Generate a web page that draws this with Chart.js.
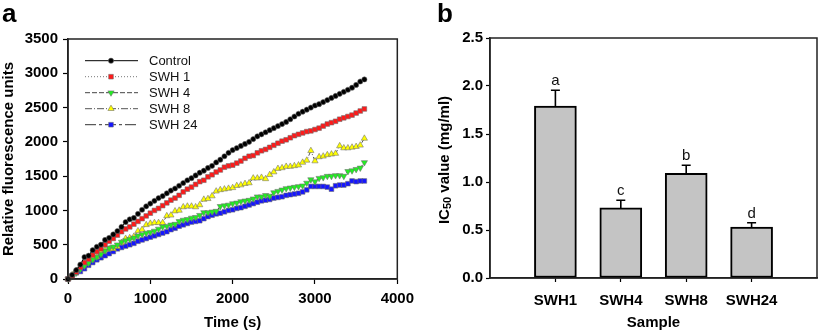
<!DOCTYPE html>
<html>
<head>
<meta charset="utf-8">
<script src="https://cdn.jsdelivr.net/npm/chart.js"></script>
<style>
  html,body{margin:0;padding:0;background:#fff;}
  #wrap{position:relative;width:827px;height:333px;overflow:hidden;}
  canvas{position:absolute;top:0;}
</style>
</head>
<body>
<div id="wrap">
  <canvas id="ca" width="420" height="333" style="left:0px"></canvas>
  <canvas id="cb" width="407" height="333" style="left:420px"></canvas>
</div>
<script>
// ---------- Panel a data ----------
const times = [0,50,100,150,200,250,300,350,400,450,500,550,600,650,700,750,800,850,900,950,
  1000,1050,1100,1150,1200,1250,1300,1350,1400,1450,1500,1550,1600,1650,1700,1750,1800,1850,1900,1950,
  2000,2050,2100,2150,2200,2250,2300,2350,2400,2450,2500,2550,2600,2650,2700,2750,2800,2850,2900,2950,
  3000,3050,3100,3150,3200,3250,3300,3350,3400,3450,3500,3550,3600];
const seriesNames = ['Control','SWH 1','SWH 4','SWH 8','SWH 24'];
const control = [0,60,130,210,320,340,420,470,500,570,
  600,650,700,760,830,870,890,950,1010,1060,
  1100,1140,1180,1210,1250,1290,1320,1360,1400,1440,
  1470,1510,1550,1580,1620,1650,1700,1740,1790,1840,
  1880,1910,1940,1970,2000,2040,2080,2110,2140,2170,
  2200,2230,2260,2290,2330,2370,2410,2440,2470,2500,
  2530,2550,2580,2610,2640,2670,2700,2730,2760,2790,
  2830,2880,2910];
const swh1 = [0,40,100,170,240,290,350,400,440,500,
  550,590,640,690,730,760,800,840,880,920,
  960,1000,1030,1070,1110,1150,1180,1220,1270,1310,
  1340,1380,1420,1440,1490,1520,1560,1590,1630,1650,
  1660,1690,1720,1760,1790,1800,1840,1870,1890,1920,
  1950,1980,2010,2030,2060,2090,2110,2130,2150,2160,
  2180,2200,2230,2260,2280,2300,2330,2350,2370,2390,
  2420,2450,2480];
const swh4 = [0,40,90,140,190,230,280,320,360,410,
  450,470,500,540,560,580,600,630,650,670,
  680,700,730,760,770,790,800,840,860,870,
  890,900,930,970,970,980,990,1060,1070,1080,
  1100,1110,1130,1140,1150,1170,1200,1200,1220,1210,
  1260,1280,1300,1320,1330,1340,1350,1360,1400,1450,
  1420,1470,1480,1500,1500,1510,1510,1500,1570,1580,
  1600,1620,1700];
const swh8 = [0,60,120,180,220,300,310,320,400,420,
  440,440,470,530,590,600,620,700,720,790,
  810,820,820,820,920,930,990,1000,1050,1060,
  1060,1050,1080,1160,1170,1210,1280,1300,1310,1320,
  1330,1360,1370,1390,1400,1470,1470,1480,1460,1520,
  1560,1610,1620,1640,1640,1650,1660,1700,1730,1870,
  1720,1780,1790,1810,1820,1830,1940,1910,1910,1920,
  1930,1950,2050];
const swh24 = [0,50,90,110,150,200,240,280,310,340,
  370,400,440,460,480,500,520,550,570,590,
  610,630,650,670,690,720,740,770,790,810,
  830,840,850,880,910,930,950,960,980,1000,
  1010,1030,1040,1060,1080,1100,1120,1140,1150,1160,
  1180,1190,1200,1220,1230,1240,1250,1270,1300,1350,
  1350,1350,1350,1340,1310,1360,1370,1370,1390,1430,
  1420,1430,1430];
const seriesValues = [control, swh1, swh4, swh8, swh24];

// ---------- Panel b data ----------
const barLabels = ['SWH1','SWH4','SWH8','SWH24'];
const ic50 = [1.79, 0.73, 1.09, 0.53];
const ic50Err = [0.165, 0.08, 0.085, 0.045];
const sigLetters = ['a','c','b','d'];

// ---------- styles ----------
const FONT = '"Liberation Sans", Arial, Helvetica, sans-serif';
const styles = [
  {fill:'#000000', line:'#000000', dash:[],            shape:'circle',   r:2.6, rot:0},
  {fill:'#ff1a1a', line:'#777777', dash:[1,2],         shape:'rect',     r:3.3, rot:0},
  {fill:'#22ee22', line:'#444444', dash:[5,2],         shape:'triangle', r:3.6, rot:180},
  {fill:'#ffff00', line:'#555555', dash:[7,2,1,2],     shape:'triangle', r:3.6, rot:0},
  {fill:'#1515ff', line:'#333333', dash:[11,3,3,3],    shape:'rect',     r:3.3, rot:0}
];

function drawMarker(ctx, st, x, y){
  ctx.save();
  ctx.beginPath();
  if (st.shape === 'circle') {
    ctx.arc(x, y, st.r, 0, Math.PI*2);
  } else if (st.shape === 'rect') {
    const s = Math.SQRT1_2 * st.r;
    ctx.rect(x - s, y - s, 2*s, 2*s);
  } else {
    let rad = st.rot * Math.PI / 180;
    ctx.moveTo(x + Math.sin(rad)*st.r, y - Math.cos(rad)*st.r);
    rad += 2*Math.PI/3;
    ctx.lineTo(x + Math.sin(rad)*st.r, y - Math.cos(rad)*st.r);
    rad += 2*Math.PI/3;
    ctx.lineTo(x + Math.sin(rad)*st.r, y - Math.cos(rad)*st.r);
    ctx.closePath();
  }
  ctx.fillStyle = st.fill;
  ctx.fill();
  ctx.lineWidth = 0.8;
  ctx.strokeStyle = 'rgba(110,110,110,0.7)';
  ctx.stroke();
  ctx.restore();
}

const framePlugin = {
  id: 'frame',
  afterDraw(chart, args, opts) {
    const ctx = chart.ctx, a = chart.chartArea;
    ctx.save();
    ctx.strokeStyle = '#222';
    ctx.lineWidth = 1.5;
    ctx.strokeRect(a.left, a.top, a.right - a.left, a.bottom - a.top);
    ctx.fillStyle = '#000';
    ctx.font = 'bold 26px ' + FONT;
    ctx.textBaseline = 'alphabetic';
    ctx.textAlign = 'left';
    ctx.fillText(opts.letter, opts.lx, 22);
    ctx.restore();
  }
};

const legendPlugin = {
  id: 'insideLegend',
  afterDraw(chart) {
    const ctx = chart.ctx;
    ctx.save();
    seriesNames.forEach((name, i) => {
      const st = styles[i];
      const y = 60.7 + i * 16;
      ctx.beginPath();
      ctx.setLineDash(st.dash);
      ctx.strokeStyle = st.line;
      ctx.lineWidth = 1;
      ctx.moveTo(85, y);
      ctx.lineTo(138, y);
      ctx.stroke();
      ctx.setLineDash([]);
      drawMarker(ctx, st, 111, y);
      ctx.fillStyle = '#111';
      ctx.font = '13px ' + FONT;
      ctx.textBaseline = 'middle';
      ctx.textAlign = 'left';
      ctx.fillText(name, 149, y + 0.5);
    });
    ctx.restore();
  }
};

const tickFont = {family: FONT, size: 15, weight: 'bold'};
const plainNum = (v) => String(v);

new Chart(document.getElementById('ca'), {
  type: 'line',
  data: {
    datasets: seriesValues.map((vals, i) => ({
      label: seriesNames[i],
      data: vals.map((v, k) => ({x: times[k], y: v})),
      borderColor: styles[i].line,
      borderWidth: 1,
      borderDash: styles[i].dash,
      pointStyle: styles[i].shape,
      pointRadius: styles[i].r,
      pointRotation: styles[i].rot,
      pointBackgroundColor: styles[i].fill,
      pointBorderColor: 'rgba(110,110,110,0.7)',
      pointBorderWidth: 0.8,
      tension: 0,
      clip: false,
      order: i
    }))
  },
  options: {
    responsive: false,
    animation: false,
    events: [],
    layout: {padding: {top: 39, right: 19, left: 0, bottom: 0}},
    plugins: {
      legend: {display: false},
      tooltip: {enabled: false},
      frame: {letter: 'a', lx: 2}
    },
    scales: {
      x: {
        type: 'linear', min: 0, max: 4000,
        afterFit(s) { s.height = 54; },
        ticks: {stepSize: 1000, font: tickFont, color: '#000', padding: 6, maxRotation: 0, callback: plainNum},
        grid: {drawOnChartArea: false, tickLength: 5, tickColor: '#000', tickWidth: 1.2},
        border: {color: '#222', width: 1.5},
        title: {display: true, text: 'Time (s)', font: tickFont, color: '#000', padding: {top: 0, bottom: 1}}
      },
      y: {
        type: 'linear', min: 0, max: 3500,
        afterFit(s) { s.width = 68; },
        ticks: {stepSize: 500, font: tickFont, color: '#000', padding: 5, callback: plainNum},
        grid: {drawOnChartArea: false, tickLength: 5, tickColor: '#000', tickWidth: 1.2},
        border: {color: '#222', width: 1.5},
        title: {display: true, text: 'Relative fluorescence units', font: tickFont, color: '#000', padding: {top: 0, bottom: 0}}
      }
    }
  },
  plugins: [framePlugin, legendPlugin]
});

// ---------- Panel b ----------
const errPlugin = {
  id: 'errBars',
  afterDatasetsDraw(chart) {
    const ctx = chart.ctx;
    const meta = chart.getDatasetMeta(0);
    const ys = chart.scales.y;
    ctx.save();
    ctx.strokeStyle = '#000';
    ctx.lineWidth = 1.6;
    ic50.forEach((v, i) => {
      const el = meta.data[i + 1];
      if (!el) return;
      const x = el.x;
      const yb = ys.getPixelForValue(v);
      const yt = ys.getPixelForValue(v + ic50Err[i]);
      ctx.beginPath();
      ctx.moveTo(x, yb);
      ctx.lineTo(x, yt);
      ctx.moveTo(x - 4.5, yt);
      ctx.lineTo(x + 4.5, yt);
      ctx.stroke();
      ctx.fillStyle = '#111';
      ctx.font = '15px ' + FONT;
      ctx.textAlign = 'center';
      ctx.textBaseline = 'alphabetic';
      ctx.fillText(sigLetters[i], x, yt - 5);
    });
    ctx.restore();
  }
};

const yTitlePlugin = {
  id: 'yTitleSub',
  afterDraw(chart) {
    const ctx = chart.ctx;
    const a = chart.chartArea;
    const big = 'bold 15px ' + FONT, small = 'bold 11px ' + FONT;
    const p1 = 'IC', p2 = '50', p3 = ' value (mg/ml)';
    ctx.save();
    ctx.font = big; const w1 = ctx.measureText(p1).width, w3 = ctx.measureText(p3).width;
    ctx.font = small; const w2 = ctx.measureText(p2).width;
    const total = w1 + w2 + w3;
    ctx.translate(25, (a.top + a.bottom) / 2 + 2);
    ctx.rotate(-Math.PI / 2);
    ctx.fillStyle = '#000';
    ctx.textAlign = 'left';
    ctx.textBaseline = 'middle';
    let x = -total / 2;
    ctx.font = big; ctx.fillText(p1, x, 0); x += w1;
    ctx.font = small; ctx.fillText(p2, x, 3); x += w2;
    ctx.font = big; ctx.fillText(p3, x, 0);
    ctx.restore();
  }
};

new Chart(document.getElementById('cb'), {
  type: 'bar',
  data: {
    labels: ['', ...barLabels, ''],
    datasets: [{
      label: 'IC50',
      data: [null, ...ic50, null],
      backgroundColor: '#c4c4c4',
      borderColor: '#000',
      borderWidth: 2,
      borderSkipped: false,
      barThickness: 42
    }]
  },
  options: {
    responsive: false,
    animation: false,
    events: [],
    layout: {padding: {top: 38, right: 1, left: 0, bottom: 0}},
    plugins: {
      legend: {display: false},
      tooltip: {enabled: false},
      frame: {letter: 'b', lx: 17}
    },
    scales: {
      x: {
        type: 'category',
        offset: false,
        afterFit(s) { s.height = 55; },
        ticks: {font: tickFont, color: '#000', padding: 10, maxRotation: 0, autoSkip: false},
        grid: {drawOnChartArea: false, offset: false, tickLength: 4, tickWidth: 1.2,
               tickColor: (c) => (c.index === 0 || c.index === 5) ? 'rgba(0,0,0,0)' : '#000'},
        border: {color: '#222', width: 1.5},
        title: {display: true, text: 'Sample', font: tickFont, color: '#000', padding: {top: 0, bottom: 1}}
      },
      y: {
        type: 'linear', min: 0, max: 2.5,
        afterFit(s) { s.width = 70; },
        ticks: {stepSize: 0.5, font: tickFont, color: '#000', padding: 3, callback: (v) => Number(v).toFixed(1)},
        grid: {drawOnChartArea: false, tickLength: 4, tickColor: '#000', tickWidth: 1.2},
        border: {color: '#222', width: 1.5},
        title: {display: false}
      }
    }
  },
  plugins: [framePlugin, errPlugin, yTitlePlugin]
});
</script>
</body>
</html>
